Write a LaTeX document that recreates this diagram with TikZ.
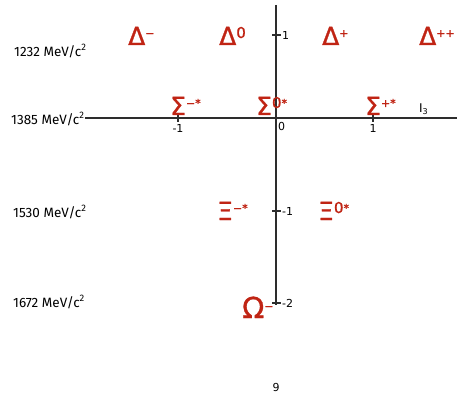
\documentclass[tikz,border=0pt]{standalone}
\usepackage{fontspec}
\setmainfont{DejaVu Sans}
\newfontfamily\labelfont{Fira Sans}
\newfontfamily\partfont[FakeBold=1.2]{DejaVu Sans}
\usetikzlibrary{positioning}
\definecolor{ParticleRed}{RGB}{192,36,20}
\definecolor{AxisGray}{RGB}{45,45,45}
\newcommand{\chg}[1]{\raisebox{8pt}{\fontsize{11}{11}\selectfont #1}}
\newcommand{\chz}[1]{\raisebox{7pt}{\fontsize{15}{15}\selectfont #1}}
\tikzset{
  axis/.style={line width=1.1pt, color=AxisGray},
  particle/.style={anchor=base west, inner sep=0pt, text=ParticleRed,
    font=\partfont\fontsize{25}{25}\selectfont},
  mass/.style={anchor=west, inner sep=0pt, font=\labelfont\fontsize{13.5}{13.5}\selectfont},
  ticklab/.style={inner sep=1pt, font=\fontsize{11}{11}\selectfont},
}

\begin{document}
\begin{tikzpicture}[x=1pt, y=-1pt]
  \useasboundingbox (0,0) rectangle (457,398);
  % axes
  \coordinate (xl) at (85,118);
  \coordinate (xr) at (457,118);
  \coordinate (yt) at (276,5);
  \coordinate (yb) at (276,305);
  \draw[axis] (xl) -- (xr);
  \draw[axis] (yt) -- (yb);
  \foreach \x/\t in {178/-1, 373/1} {
    \draw[axis] (\x,114) -- (\x,122);
    \node[ticklab, anchor=north] (xt\x) at (\x,123) {\t};
  }
  \foreach \y/\t in {35/1, 211/-1, 303/-2} {
    \draw[axis] (272,\y) -- (281,\y);
    \node[ticklab, anchor=west] (yt\y) at (281,\y) {\t};
  }
  \node[ticklab, anchor=north west] (orig) at (277,121) {0};
  \node[anchor=base west, inner sep=0pt, font=\fontsize{12}{12}\selectfont]
    (ithree) at (419,113) {I\textsubscript{3}};

  % mass levels
  \node[mass] (m1232) at (14,51) {1232 MeV/c\textsuperscript{2}};
  \node[mass] (m1385) at (11,119) {1385 MeV/c\textsuperscript{2}};
  \node[mass] (m1530) at (13,212) {1530 MeV/c\textsuperscript{2}};
  \node[mass] (m1672) at (13,302) {1672 MeV/c\textsuperscript{2}};

  % decuplet
  \node[particle] (dm)  at (128,45) {Δ\chg{−}};
  \node[particle] (dz)  at (219,45) {Δ\chz{0}};
  \node[particle] (dp)  at (322,45) {Δ\chg{+}};
  \node[particle] (dpp) at (419,45) {Δ\chg{++}};
  \node[particle] (sm)  at (170,115) {Σ\chg{−*}};
  \node[particle] (sz)  at (256,115) {Σ\chz{0}\chg{*}};
  \node[particle] (sp)  at (365,115) {Σ\chg{+*}};
  \node[particle] (xm)  at (217,220) {Ξ\chg{−*}};
  \node[particle] (xz)  at (318,220) {Ξ\chz{0}\chg{*}};
  \node[particle, font=\partfont\fontsize{29}{29}\selectfont]
    (om)  at (242,318) {Ω\chg{−}};

  \node[ticklab] (page) at (276,387) {9};
\end{tikzpicture}
\end{document}
